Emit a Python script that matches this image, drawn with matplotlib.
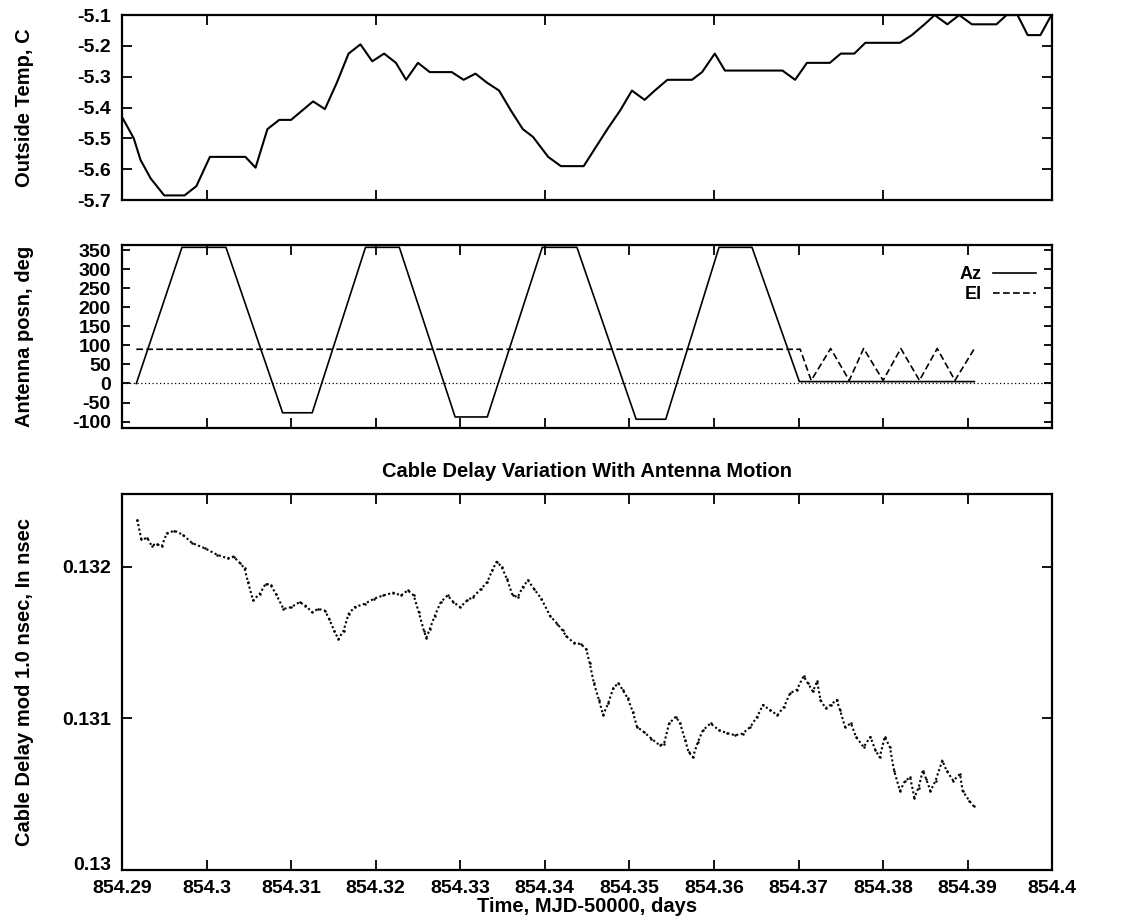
import matplotlib
matplotlib.use('Agg')
import matplotlib.pyplot as plt
import matplotlib.transforms as mtransforms
from matplotlib.ticker import FormatStrFormatter

plt.rcParams['font.family'] = ['Liberation Sans', 'DejaVu Sans']
plt.rcParams['font.weight'] = 'bold'
plt.rcParams['axes.labelweight'] = 'bold'
plt.rcParams['axes.titleweight'] = 'bold'
plt.rcParams['axes.unicode_minus'] = False

# outside temperature, C
temp_t = [854.2900, 854.2914, 854.2922, 854.2934, 854.2950, 854.2974, 854.2988, 854.3004,
          854.3046, 854.3058, 854.3072, 854.3086, 854.3100, 854.3126, 854.3140, 854.3154,
          854.3168, 854.3182, 854.3196, 854.3210, 854.3224, 854.3236, 854.3250, 854.3264,
          854.3290, 854.3304, 854.3318, 854.3332, 854.3346, 854.3360, 854.3374, 854.3386,
          854.3404, 854.3419, 854.3446, 854.3460, 854.3474, 854.3489, 854.3503, 854.3518,
          854.3530, 854.3545, 854.3574, 854.3586, 854.3601, 854.3613, 854.3681, 854.3696,
          854.3710, 854.3737, 854.3750, 854.3766, 854.3779, 854.3820, 854.3834, 854.3849,
          854.3861, 854.3876, 854.3890, 854.3905, 854.3934, 854.3946, 854.3959, 854.3971,
          854.3986, 854.3999]
temp_c = [-5.43, -5.50, -5.57, -5.63, -5.685, -5.685, -5.655, -5.56,
          -5.56, -5.595, -5.47, -5.44, -5.44, -5.38, -5.405, -5.32,
          -5.225, -5.195, -5.25, -5.225, -5.255, -5.31, -5.255, -5.285,
          -5.285, -5.31, -5.29, -5.32, -5.345, -5.41, -5.47, -5.495,
          -5.56, -5.59, -5.59, -5.53, -5.47, -5.41, -5.345, -5.375,
          -5.345, -5.31, -5.31, -5.285, -5.225, -5.28, -5.28, -5.31,
          -5.255, -5.255, -5.225, -5.225, -5.19, -5.19, -5.165, -5.13,
          -5.10, -5.13, -5.10, -5.13, -5.13, -5.10, -5.10, -5.165,
          -5.165, -5.10]

# antenna position, deg
az_t = [854.2917, 854.2971, 854.3023, 854.3090, 854.3125, 854.3188, 854.3228, 854.3294,
        854.3332, 854.3397, 854.3438, 854.3508, 854.3543, 854.3606, 854.3645, 854.3701,
        854.3908]
az_deg = [0, 358, 358, -77, -77, 358, 358, -88,
          -88, 358, 358, -94, -94, 358, 358, 5,
          5]
el_t = [854.2917, 854.3702, 854.3715, 854.3738, 854.3760, 854.3777, 854.3800, 854.3821,
        854.3843, 854.3864, 854.3885, 854.3908]
el_deg = [90, 90, 8, 92, 8, 92, 8, 92,
          8, 92, 8, 92]

# cable delay mod 1.0 nsec
delay_t = [854.2918, 854.2923, 854.2930, 854.2935, 854.2941, 854.2947, 854.2953, 854.2962,
           854.2972, 854.2983, 854.2998, 854.3013, 854.3025, 854.3032, 854.3040, 854.3045,
           854.3049, 854.3055, 854.3063, 854.3070, 854.3076, 854.3082, 854.3091, 854.3100,
           854.3110, 854.3117, 854.3125, 854.3132, 854.3140, 854.3145, 854.3151, 854.3156,
           854.3162, 854.3168, 854.3175, 854.3187, 854.3198, 854.3209, 854.3221, 854.3230,
           854.3238, 854.3245, 854.3251, 854.3257, 854.3260, 854.3264, 854.3270, 854.3277,
           854.3285, 854.3292, 854.3300, 854.3308, 854.3315, 854.3325, 854.3332, 854.3338,
           854.3343, 854.3349, 854.3355, 854.3362, 854.3368, 854.3374, 854.3380, 854.3387,
           854.3396, 854.3406, 854.3415, 854.3421,
           854.3425, 854.3434, 854.3443, 854.3449, 854.3453, 854.3458, 854.3464, 854.3469,
           854.3475, 854.3481, 854.3487, 854.3492, 854.3498, 854.3504, 854.3509, 854.3517,
           854.3526, 854.3536, 854.3541, 854.3547, 854.3555, 854.3560, 854.3566, 854.3570,
           854.3575, 854.3581, 854.3587, 854.3596, 854.3606, 854.3615, 854.3625, 854.3634,
           854.3643, 854.3651, 854.3658, 854.3666, 854.3675, 854.3683, 854.3690, 854.3698,
           854.3706, 854.3711, 854.3717, 854.3722, 854.3726, 854.3732, 854.3738, 854.3745,
           854.3749, 854.3755, 854.3762, 854.3768, 854.3777, 854.3785, 854.3791, 854.3796,
           854.3802, 854.3808, 854.3813, 854.3820, 854.3826, 854.3832, 854.3837, 854.3842,
           854.3847, 854.3851, 854.3856, 854.3862, 854.3870, 854.3875, 854.3883, 854.3891,
           854.3894, 854.3902, 854.3907]
delay_ns = [0.132311, 0.132180, 0.132190, 0.132140, 0.132150, 0.132135, 0.132220, 0.132238,
            0.132211, 0.132156, 0.132122, 0.132078, 0.132056, 0.132067, 0.132022, 0.131989,
            0.131900, 0.131778, 0.131822, 0.131889, 0.131878, 0.131822, 0.131722, 0.131733,
            0.131767, 0.131744, 0.131700, 0.131722, 0.131711, 0.131656, 0.131578, 0.131522,
            0.131578, 0.131689, 0.131733, 0.131756, 0.131789, 0.131811, 0.131829, 0.131811,
            0.131844, 0.131811, 0.131700, 0.131578, 0.131533, 0.131589, 0.131678, 0.131767,
            0.131811, 0.131767, 0.131733, 0.131778, 0.131800, 0.131856, 0.131900, 0.131978,
            0.132033, 0.132000, 0.131922, 0.131811, 0.131800, 0.131867, 0.131911, 0.131856,
            0.131789, 0.131678, 0.131622, 0.131580,
            0.131544, 0.131500, 0.131489, 0.131456, 0.131367, 0.131233, 0.131122, 0.131022,
            0.131100, 0.131200, 0.131233, 0.131189, 0.131133, 0.131044, 0.130944, 0.130911,
            0.130867, 0.130822, 0.130833, 0.130967, 0.131011, 0.130967, 0.130856, 0.130778,
            0.130744, 0.130844, 0.130922, 0.130967, 0.130922, 0.130904, 0.130889, 0.130900,
            0.130944, 0.131011, 0.131089, 0.131056, 0.131022, 0.131078, 0.131167, 0.131189,
            0.131278, 0.131233, 0.131178, 0.131244, 0.131122, 0.131067, 0.131089, 0.131122,
            0.131056, 0.130944, 0.130967, 0.130878, 0.130811, 0.130878, 0.130789, 0.130744,
            0.130878, 0.130811, 0.130656, 0.130522, 0.130589, 0.130611, 0.130478, 0.130544,
            0.130656, 0.130600, 0.130522, 0.130589, 0.130722, 0.130656, 0.130589, 0.130633,
            0.130522, 0.130456, 0.130422]

x_ticks_top = [854.30, 854.32, 854.34, 854.36, 854.38]
x_ticks_mid = [854.30, 854.31, 854.32, 854.33, 854.34, 854.35, 854.36, 854.37, 854.38, 854.39]
x_ticks_bot = [854.29, 854.30, 854.31, 854.32, 854.33, 854.34, 854.35, 854.36, 854.37,
               854.38, 854.39, 854.40]
temp_ticks = [-5.7, -5.6, -5.5, -5.4, -5.3, -5.2, -5.1]
pos_ticks = [-100, -50, 0, 50, 100, 150, 200, 250, 300, 350]
delay_ticks = [0.130, 0.131, 0.132]

FS = 14
LFS = 14.5
fig = plt.figure(figsize=(11.29, 9.24), dpi=100)
left, width = 0.108, 0.824
ax1 = fig.add_axes([left, 0.7835, width, 0.2002])
ax2 = fig.add_axes([left, 0.5368, width, 0.1980])
ax3 = fig.add_axes([left, 0.0584, width, 0.4070])


def style(ax):
    for s in ax.spines.values():
        s.set_linewidth(1.6)
    ax.tick_params(direction='in', length=7, width=1.3, top=True, right=True,
                   labelsize=FS, pad=8)
    ax.tick_params(axis='x', pad=7)
    ax.xaxis.set_major_formatter(FormatStrFormatter('%g'))
    ax.yaxis.set_major_formatter(FormatStrFormatter('%g'))
    ax.set_xlim(854.29, 854.40)
    ax.yaxis.set_label_coords(-0.094, 0.5)


# top: outside temperature
ax1.plot(temp_t, temp_c, color='black', lw=1.5)
style(ax1)
ax1.set_ylim(-5.7, -5.1)
ax1.set_xticks(x_ticks_top)
ax1.set_yticks(temp_ticks)
ax1.tick_params(axis='x', labelbottom=False)
ax1.set_ylabel('Outside Temp, C', fontsize=LFS)

# middle: antenna position
ax2.axhline(0, color='black', lw=0.9, ls=(0, (1, 2)))
ax2.plot(az_t, az_deg, color='black', lw=1.2, label='Az')
ax2.plot(el_t, el_deg, color='black', lw=1.2, ls=(0, (4, 2)), label='El')
style(ax2)
ax2.set_ylim(-117, 364)
ax2.set_xticks(x_ticks_mid)
ax2.set_yticks(pos_ticks)
ax2.tick_params(axis='x', labelbottom=False)
ax2.tick_params(axis='y', length=6)
ax2.set_ylabel('Antenna posn, deg', fontsize=LFS)
leg = ax2.legend(loc='upper right', bbox_to_anchor=(1.0, 0.975), frameon=False,
                 markerfirst=False, handlelength=2.4, handletextpad=0.6,
                 labelspacing=0.2, fontsize=FS - 1)

# bottom: cable delay
ax3.plot(delay_t, delay_ns, color='black', lw=1.5, ls=(0, (1, 1.2)),
         marker='o', ms=1.8, mew=0)
style(ax3)
ax3.set_ylim(0.130, 0.13248)
ax3.set_xticks(x_ticks_bot)
ax3.set_yticks(delay_ticks)
ax3.set_title('Cable Delay Variation With Antenna Motion', fontsize=LFS, pad=12)
ax3.set_xlabel('Time, MJD-50000, days', fontsize=LFS, labelpad=0)
ax3.set_ylabel('Cable Delay mod 1.0 nsec, In nsec', fontsize=LFS)

# lift the lowest y label a little so it clears the first x label
fig.canvas.draw()
lab0 = ax3.get_yticklabels()[0]
lab0.set_transform(lab0.get_transform() +
                   mtransforms.ScaledTranslation(0, 5 / 72, fig.dpi_scale_trans))

fig.savefig('out.png', dpi=100, facecolor='white')
